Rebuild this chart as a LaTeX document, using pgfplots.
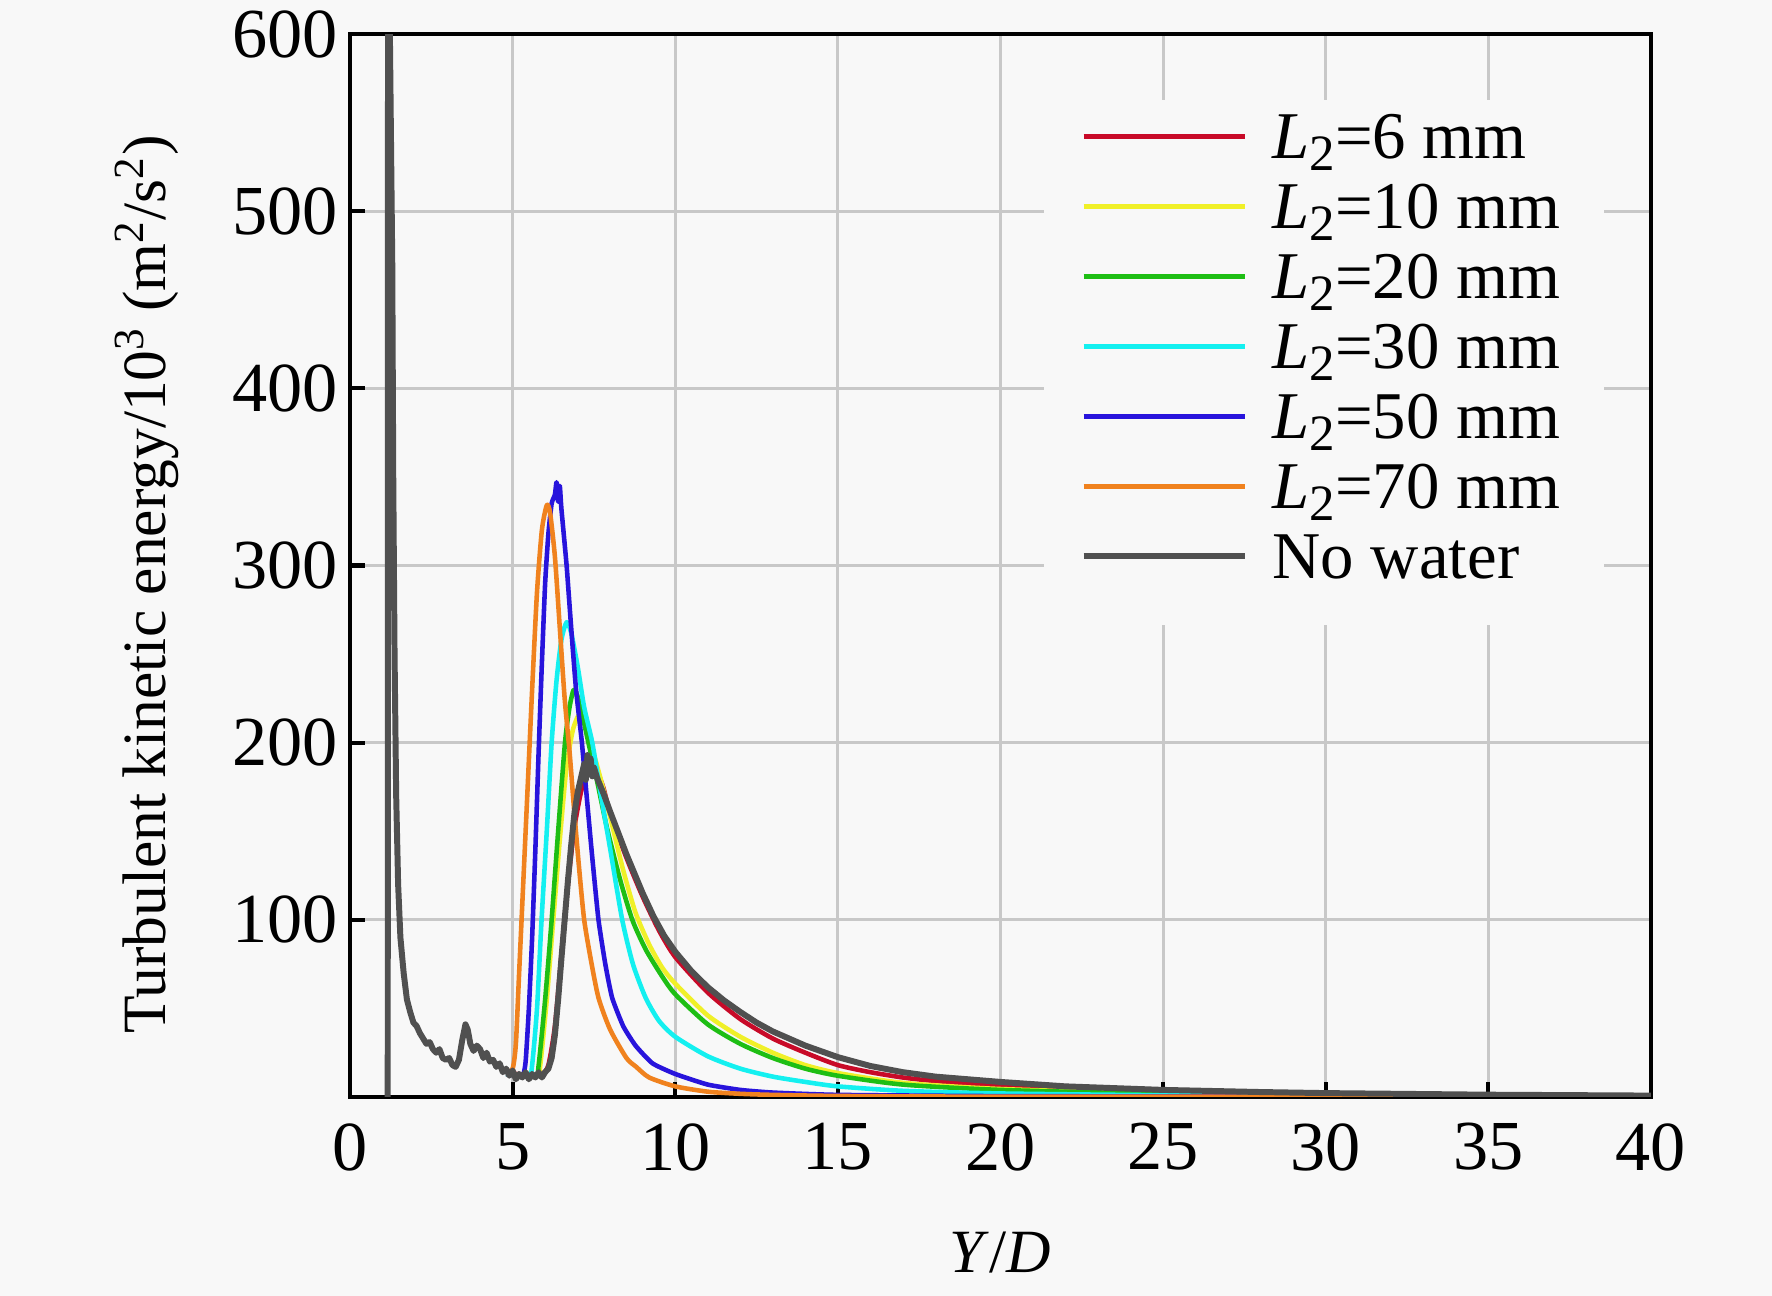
\documentclass[border=0pt]{standalone}
\usepackage{pgfplots}
\pgfplotsset{compat=1.18}
\usepackage{fontspec}
\setmainfont{Liberation Serif}
\definecolor{bgc}{RGB}{248,248,248}
\definecolor{gridc}{RGB}{200,200,200}
\definecolor{cRed}{RGB}{200,10,40}
\definecolor{cYel}{RGB}{240,240,40}
\definecolor{cGrn}{RGB}{30,190,20}
\definecolor{cCyn}{RGB}{20,240,240}
\definecolor{cBlu}{RGB}{40,20,220}
\definecolor{cOrg}{RGB}{240,130,30}
\definecolor{cGry}{RGB}{80,80,80}
\newcommand{\Ltwo}{\textit{L}\raisebox{-0.12cm}{\fontsize{14.5}{14.5}\selectfont 2}}
\newcommand{\tickf}{\fontsize{20}{22}\selectfont}
\newcommand{\legf}{\fontsize{19}{22}\selectfont}
\newcommand{\labf}{\fontsize{17.5}{20}\selectfont}
\begin{document}
\begin{tikzpicture}
\path[use as bounding box, fill=bgc] (-3.50,-1.99) rectangle (14.22,10.97);
\begin{axis}[
  at={(0,0)}, anchor=south west,
  scale only axis, width=13.01cm, height=10.63cm,
  xmin=0, xmax=40, ymin=0, ymax=600,
  xtick={0,5,...,40}, ytick={100,200,...,600},
  tick align=inside, tick pos=left,
  major tick length=0.15cm,
  every tick/.style={black, line width=1.2pt},
  axis line style={black, line width=1.3pt},
  grid=major,
  major grid style={gridc, line width=0.9pt},
  axis background/.style={fill=bgc},
  /pgf/number format/assume math mode=true,
  ticklabel style={font=\tickf},
  xticklabel style={yshift=-0.14cm},
  label style={font=\labf},
  xlabel={\textit{Y}/\textit{D}},
  ylabel={Turbulent kinetic energy/10\textsuperscript{3} (m\textsuperscript{2}/s\textsuperscript{2})},
  xlabel style={at={(axis description cs:0.5,-0.146)}, anchor=center},
  ylabel style={at={(axis description cs:-0.156,0.482)}, anchor=center},
  legend style={at={(0.5611,0.9374)}, anchor=north west, draw=none, fill=none,
    inner sep=0pt, row sep=0pt, column sep=0.25cm,
    nodes={inner sep=0pt, text height=0.57cm, text depth=0.13cm, font=\legf}},
  legend cell align=left,
  legend image code/.code={\draw[#1] (0cm,0cm) -- (1.61cm,0cm);},
  every axis plot/.append style={line width=1.3pt, line join=round},
]
\fill[bgc] (axis cs:21.34,266.7) rectangle (axis cs:38.55,562.7);

% L2 = 6 mm
\addplot[cRed, smooth, tension=0.4] coordinates {
(4.8,14)(5.5,12)(5.9,13)(6.1,18)(6.3,40)(6.5,80)(6.7,120)(6.9,152)(7.1,172)(7.3,184)(7.45,187)(7.6,184)(7.8,174)(8.0,160)(8.5,135)(9.0,113)(9.5,94)(10,79)(11,59)(12,44)(13,33)(14,25)(15,18)(16,14)(17,11)(18,9)(20,6.5)(22,4.6)(25,3)(30,1.7)(35,1)(40,0.6)
};
\addlegendentry{\Ltwo=6 mm}
% L2 = 10 mm
\addplot[cYel, smooth, tension=0.4] coordinates {
(4.8,13)(5.75,12)(5.85,18)(6.05,55)(6.25,100)(6.45,145)(6.65,185)(6.85,207)(7.05,216)(7.2,212)(7.4,200)(7.7,180)(8.0,158)(8.4,128)(8.78,104)(9.2,86)(9.6,73)(10,64)(11,46)(12,34)(13,25)(14,18)(15,13.5)(17,8)(20,4.5)(25,2)(30,1)(35,0.6)(40,0.3)
};
\addlegendentry{\Ltwo=10 mm}
% L2 = 20 mm
\addplot[cGrn, smooth, tension=0.4] coordinates {
(4.8,13)(5.7,12)(5.8,18)(6.0,55)(6.2,100)(6.4,150)(6.61,200)(6.75,220)(6.88,230)(7.0,226)(7.15,215)(7.33,200)(7.6,178)(7.9,152)(8.3,123)(8.68,100)(9.1,83)(9.6,68)(10,58)(11,41)(12,30)(13,22)(14,16)(15,12)(17,7)(20,4)(25,1.8)(30,0.9)(35,0.5)(40,0.3)
};
\addlegendentry{\Ltwo=20 mm}
% L2 = 30 mm
\addplot[cCyn, smooth, tension=0.4] coordinates {
(4.8,13)(5.5,12)(5.6,18)(5.75,50)(5.89,100)(6.05,150)(6.2,200)(6.35,235)(6.5,258)(6.66,268)(6.8,262)(7.0,243)(7.2,220)(7.45,200)(7.7,172)(8.0,140)(8.37,100)(8.7,75)(9.09,56)(9.5,43)(10,34)(11,23)(12,16)(13,11.5)(14,8.5)(15,6)(17,3.5)(20,2)(25,1)(30,0.5)(40,0.2)
};
\addlegendentry{\Ltwo=30 mm}
% L2 = 50 mm
\addplot[cBlu, smooth, tension=0.3] coordinates {
(4.8,13)(5.3,12)(5.4,20)(5.5,50)(5.6,90)(5.7,140)(5.8,195)(5.9,245)(6.0,290)(6.1,318)(6.2,335)(6.3,340)(6.35,347)(6.4,336)(6.45,345)(6.5,332)(6.66,300)(6.8,265)(6.95,230)(7.13,200)(7.3,165)(7.45,135)(7.64,100)(7.85,75)(8.06,56)(8.4,40)(8.78,29)(9.3,19)(10,13)(11,7)(12,4)(13,2.5)(15,1.2)(20,0.5)(30,0.2)(40,0.1)
};
\addlegendentry{\Ltwo=50 mm}
% L2 = 70 mm
\addplot[cOrg, smooth, tension=0.4] coordinates {
(4.8,14)(5.0,16)(5.1,30)(5.2,70)(5.3,110)(5.45,170)(5.6,230)(5.75,285)(5.9,320)(6.05,334)(6.15,330)(6.3,305)(6.45,265)(6.6,225)(6.75,195)(6.9,160)(7.05,128)(7.2,100)(7.4,78)(7.64,56)(8.0,38)(8.5,22)(8.8,17)(9.2,11)(10,6)(11,3)(12,1.8)(13,1.2)(15,0.6)(20,0.2)(40,0.1)
};
\addlegendentry{\Ltwo=70 mm}
% No water
\addplot[cGry, line width=1.7pt] coordinates {
(1.16,0)(1.17,700)(1.3,470)(1.33,350)(1.37,250)(1.42,170)(1.48,120)(1.55,90)(1.65,70)(1.75,55)(1.85,48)(1.95,42)(2.05,40)(2.15,36)(2.25,33)(2.35,30)(2.45,31)(2.55,27)(2.65,25)(2.75,27)(2.85,22)(2.95,21)(3.05,22)(3.15,18)(3.25,17)(3.35,21)(3.45,32)(3.55,41)(3.62,38)(3.7,30)(3.8,26)(3.9,29)(4.0,27)(4.1,22)(4.2,25)(4.3,20)(4.4,21)(4.5,17)(4.6,19)(4.7,14)(4.8,16)(4.9,12)(5.0,15)(5.1,10)(5.2,13)(5.3,11)(5.4,14)(5.5,10)(5.6,13)(5.7,11)(5.8,14)(5.9,11)(6.0,14)(6.1,16)(6.2,22)(6.3,35)(6.4,55)(6.5,78)(6.6,100)(6.7,122)(6.8,142)(6.9,160)(7.0,172)(7.1,180)(7.2,188)(7.25,179)(7.3,193)(7.35,182)(7.4,191)(7.45,181)(7.5,186)(7.6,180)(7.8,171)(8.0,161)(8.25,149)(8.5,137)(8.75,126)(9.0,115)(9.33,102)(9.66,91)(10,82)(10.5,71)(11,62)(11.5,54.5)(12,48)(12.5,42)(13,37)(14,29)(15,22.5)(16,17.5)(17,14)(18,11.5)(19,10)(20,8.5)(22,6)(25,4)(28,2.8)(30,2.2)(35,1.3)(40,0.8)
};
\addlegendentry{No water}
\end{axis}
\end{tikzpicture}
\end{document}
